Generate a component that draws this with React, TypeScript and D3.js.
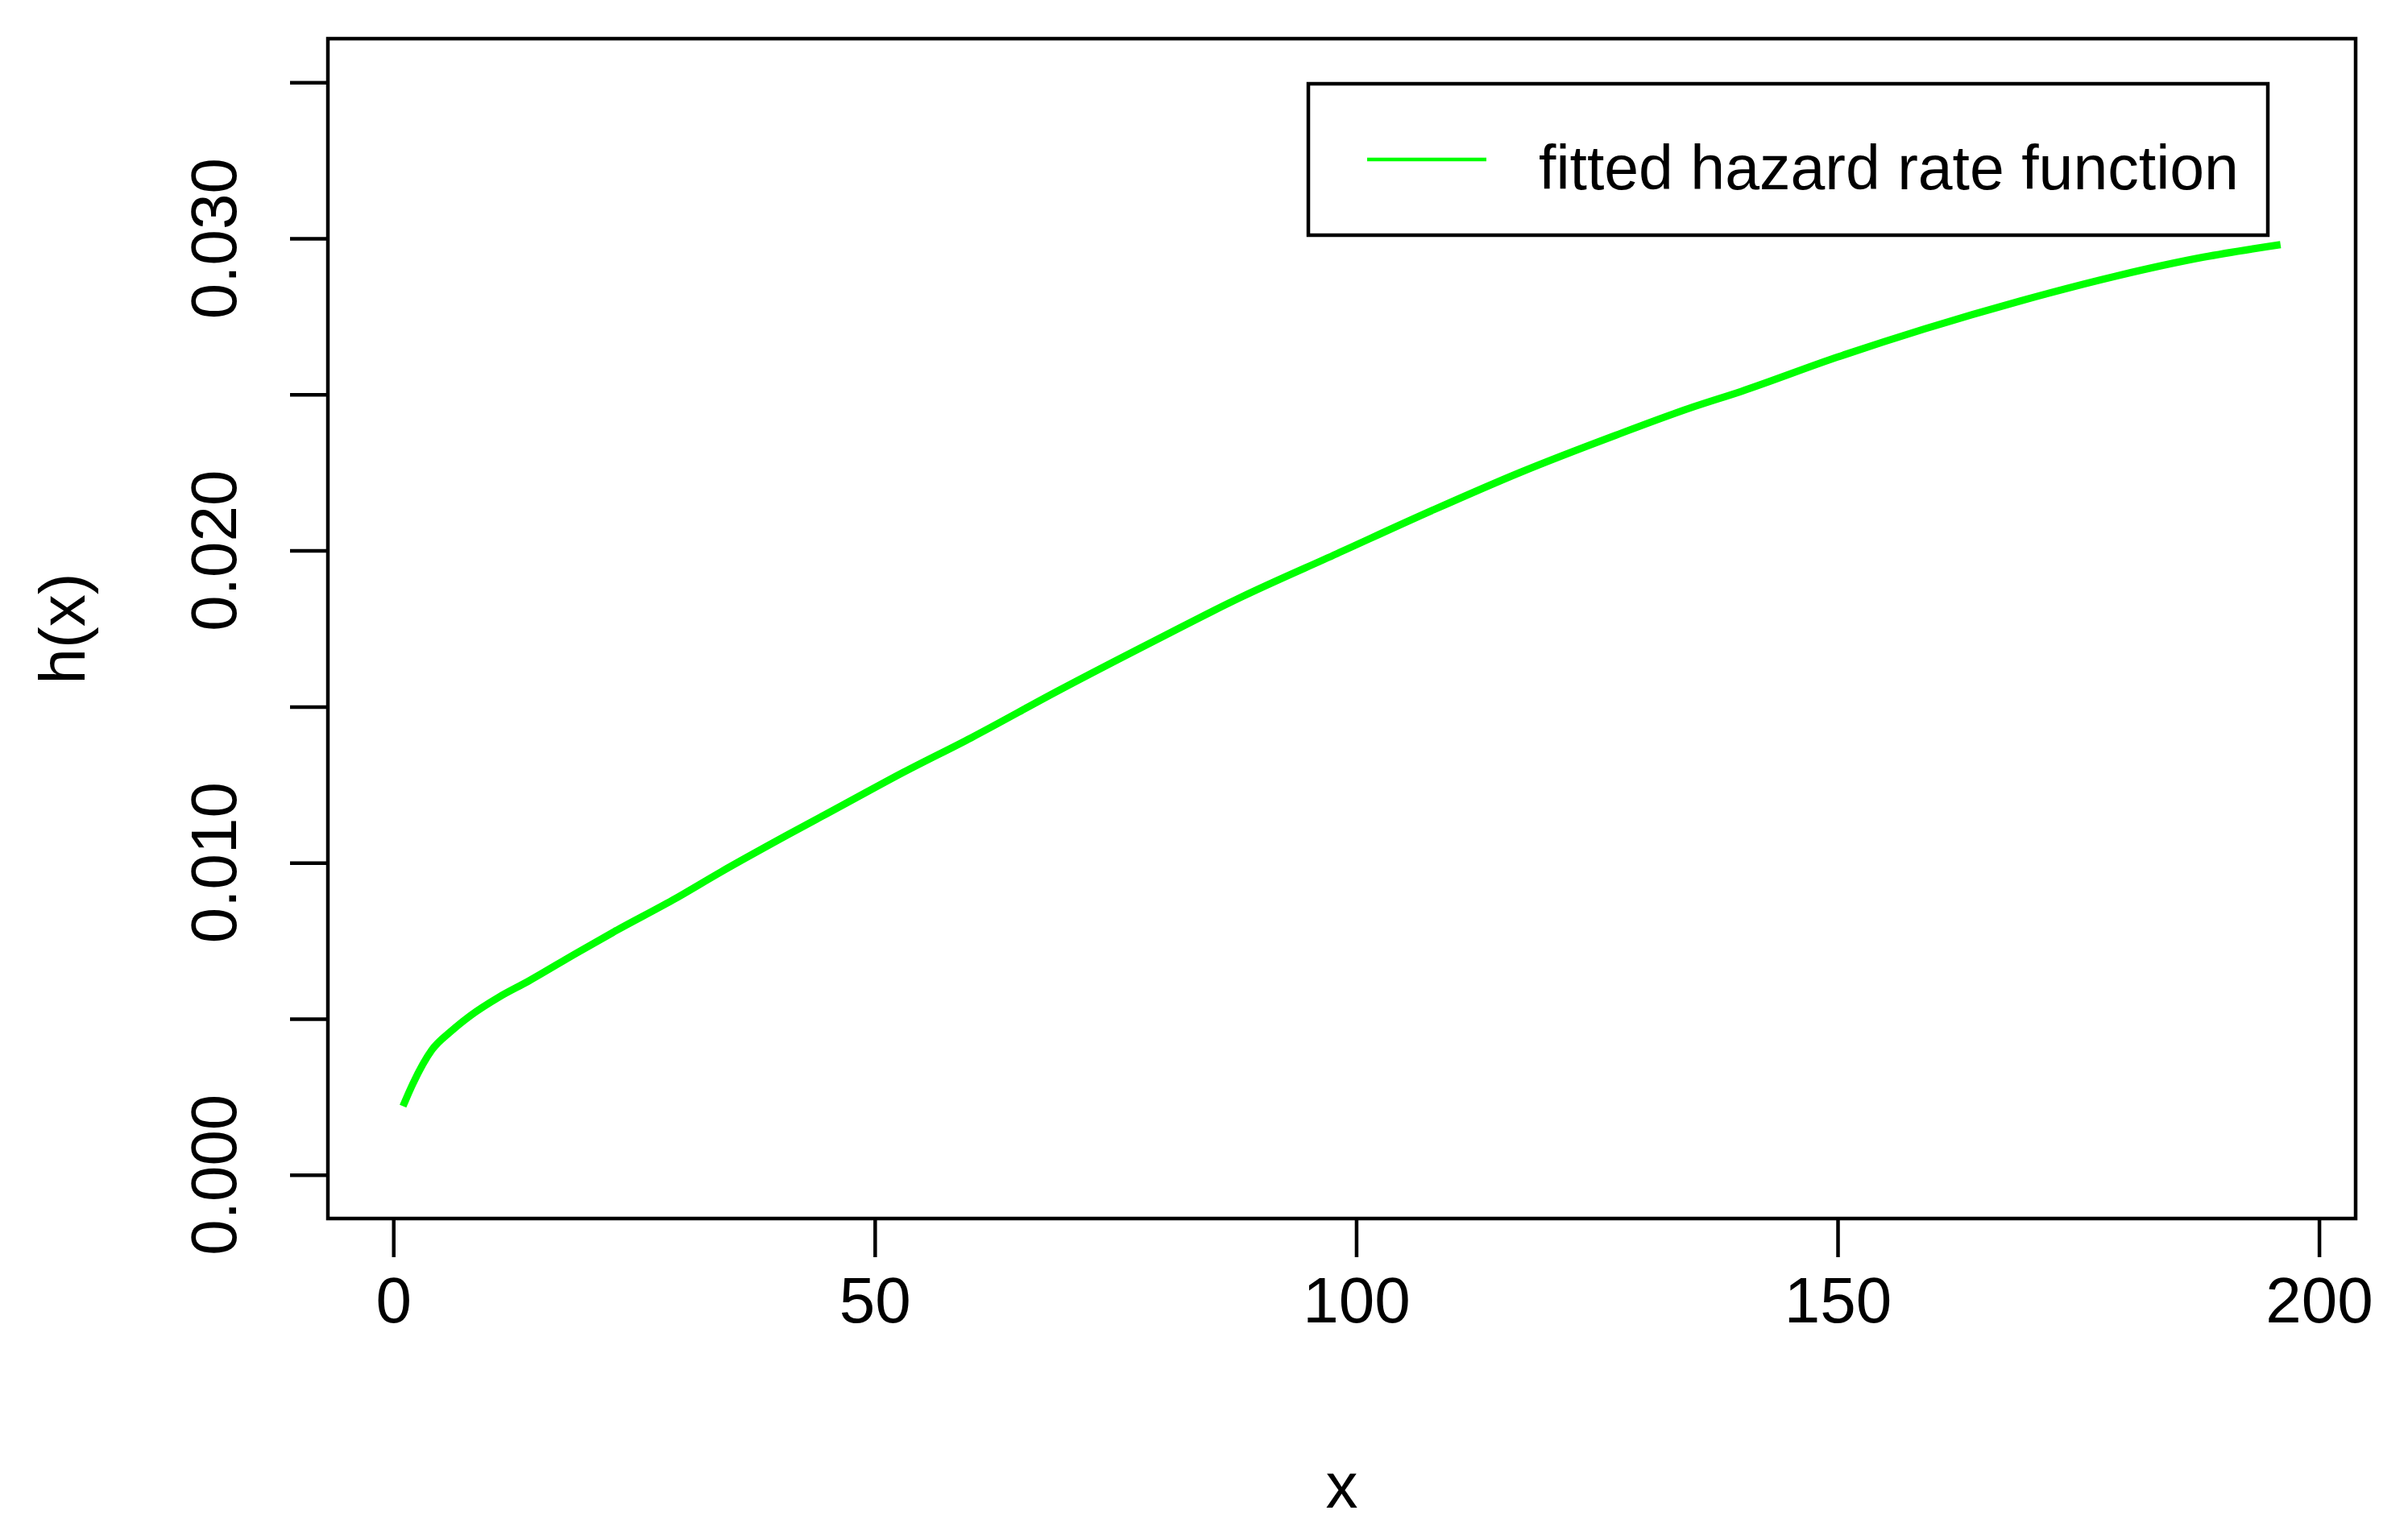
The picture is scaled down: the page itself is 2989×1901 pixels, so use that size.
import React, { useEffect, useRef } from 'react';
import * as d3 from 'd3';

// values
const xValues = [1, 2, 4, 6, 8, 11, 14, 19, 23, 29, 34, 41, 47, 53, 60, 69, 79, 88, 98, 108, 117, 127, 135, 140, 150, 159, 169, 179, 188, 196];
const hValues = [0.0022, 0.0029, 0.0040, 0.0046, 0.0051, 0.0057, 0.0062, 0.0071, 0.0078, 0.0088, 0.0097, 0.0109, 0.0119, 0.0129, 0.0140, 0.0155, 0.0171, 0.0185, 0.0199, 0.0213, 0.0225, 0.0237, 0.0246, 0.0251, 0.0262, 0.0271, 0.0280, 0.0288, 0.0294, 0.0298];

const xTicks = [0, 50, 100, 150, 200];
const yTicks = [0, 0.005, 0.01, 0.015, 0.02, 0.025, 0.03, 0.035];
const yLabelTicks = [0, 0.01, 0.02, 0.03];
const yLimits = [0, 0.035];

const legendLabel = "fitted hazard rate function";
const xTitle = "x";
const yTitle = "h(x)";

const W = 2989;
const H = 1901;
const FONT = "'Liberation Sans', Arial, sans-serif";

const App: React.FC = () => {
  const svgRef = useRef<SVGSVGElement>(null);

  useEffect(() => {
    if (!svgRef.current) return;
    const svg = d3.select(svgRef.current);
    svg.selectAll("*").remove();

    const plot = { left: 407, right: 2924, top: 48, bottom: 1513 };

    // R style 4% padding on both ends
    const [x0, x1] = d3.extent(xValues) as [number, number];
    const xPad = (x1 - x0) * 0.04;
    const yPad = (yLimits[1] - yLimits[0]) * 0.04;

    const xScale = d3.scaleLinear()
      .domain([x0 - xPad, x1 + xPad])
      .range([plot.left, plot.right]);

    const yScale = d3.scaleLinear()
      .domain([yLimits[0] - yPad, yLimits[1] + yPad])
      .range([plot.bottom, plot.top]);

    svg.append("rect")
      .attr("width", W)
      .attr("height", H)
      .attr("fill", "#fff");

    // curve
    const points = xValues.map((x, i) => [x, hValues[i]] as [number, number]);
    const line = d3.line<[number, number]>()
      .x(d => xScale(d[0]))
      .y(d => yScale(d[1]))
      .curve(d3.curveMonotoneX);

    svg.append("path")
      .datum(points)
      .attr("fill", "none")
      .attr("stroke", "#00ff00")
      .attr("stroke-width", 9)
      .attr("d", line);

    // plot box
    svg.append("rect")
      .attr("x", plot.left)
      .attr("y", plot.top)
      .attr("width", plot.right - plot.left)
      .attr("height", plot.bottom - plot.top)
      .attr("fill", "none")
      .attr("stroke", "#000")
      .attr("stroke-width", 4.5);

    // x axis
    const xAxis = svg.append("g")
      .attr("transform", `translate(0,${plot.bottom})`)
      .call(d3.axisBottom(xScale).tickValues(xTicks).tickSize(48).tickPadding(24).tickFormat(d3.format("d")));
    xAxis.select(".domain").remove();
    xAxis.selectAll("line").attr("stroke", "#000").attr("stroke-width", 4.5);
    xAxis.selectAll("text")
      .attr("fill", "#000")
      .style("font-family", FONT)
      .style("font-size", "80px");

    // y axis
    const yAxis = svg.append("g")
      .attr("transform", `translate(${plot.left},0)`)
      .call(d3.axisLeft(yScale).tickValues(yTicks).tickSize(47).tickFormat(() => ""));
    yAxis.select(".domain").remove();
    yAxis.selectAll("line").attr("stroke", "#000").attr("stroke-width", 4.5);

    svg.append("g")
      .selectAll("text")
      .data(yLabelTicks)
      .enter()
      .append("text")
      .attr("transform", d => `translate(293,${yScale(d)}) rotate(-90)`)
      .attr("text-anchor", "middle")
      .style("font-family", FONT)
      .style("font-size", "80px")
      .attr("fill", "#000")
      .text(d => d3.format(".3f")(d));

    // axis titles
    svg.append("text")
      .attr("x", (plot.left + plot.right) / 2)
      .attr("y", 1872)
      .attr("text-anchor", "middle")
      .style("font-family", FONT)
      .style("font-size", "80px")
      .attr("fill", "#000")
      .text(xTitle);

    svg.append("text")
      .attr("transform", `translate(105,${(plot.top + plot.bottom) / 2}) rotate(-90)`)
      .attr("text-anchor", "middle")
      .style("font-family", FONT)
      .style("font-size", "80px")
      .attr("fill", "#000")
      .text(yTitle);

    // legend
    const legend = svg.append("g");
    legend.append("rect")
      .attr("x", 1624)
      .attr("y", 104)
      .attr("width", 2815 - 1624)
      .attr("height", 292 - 104)
      .attr("fill", "#fff")
      .attr("stroke", "#000")
      .attr("stroke-width", 4.5);

    legend.append("line")
      .attr("x1", 1697)
      .attr("x2", 1845)
      .attr("y1", 198)
      .attr("y2", 198)
      .attr("stroke", "#00ff00")
      .attr("stroke-width", 4.5);

    legend.append("text")
      .attr("x", 1910)
      .attr("y", 235)
      .style("font-family", FONT)
      .style("font-size", "77px")
      .attr("fill", "#000")
      .text(legendLabel);
  }, []);

  return (
    <svg
      ref={svgRef}
      width={W}
      height={H}
      style={{ position: "absolute", left: 0, top: 0, display: "block" }}
    />
  );
};

export default App;
